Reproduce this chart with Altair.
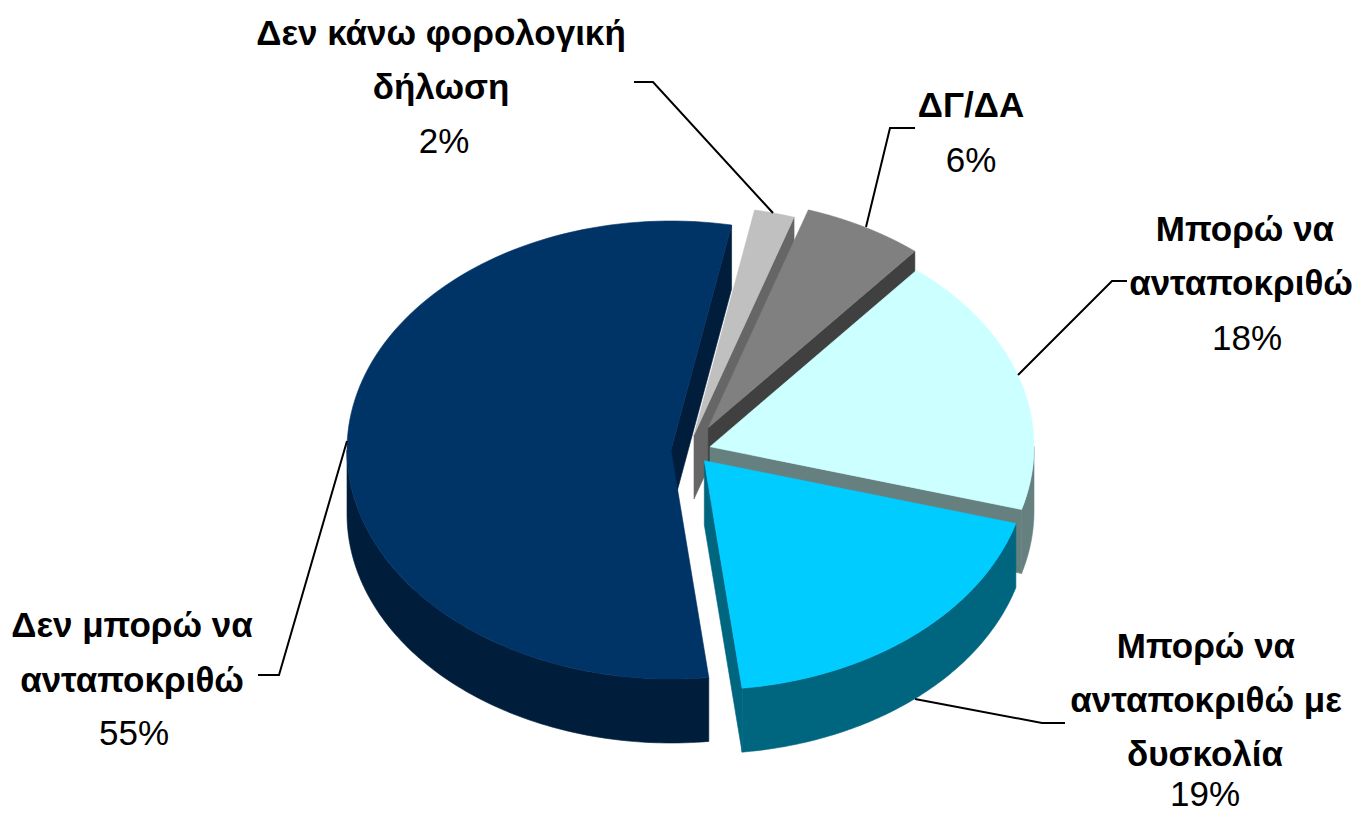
import numpy as np
import pandas as pd
import altair as alt

# ---- chart values (clockwise from the navy slice) ----
categories = ["Δεν μπορώ να ανταποκριθώ", "Δεν κάνω φορολογική δήλωση", "ΔΓ/ΔΑ",
              "Μπορώ να ανταποκριθώ", "Μπορώ να ανταποκριθώ με δυσκολία"]
values = [54.8, 2.0, 6.0, 18.4, 18.7]
top_colors = ["#003366", "#C0C0C0", "#808080", "#CCFFFF", "#00CCFF"]
side_colors = ["#001E3C", "#666666", "#404040", "#668080", "#006680"]

# ---- 3-D pie geometry: exploded slice pivots, in page pixels ----
pivots = [(671, 450), (694, 435), (708.3, 427.7), (710, 446.7), (704.3, 460.7)]
RX, RY, DEPTH = 324, 229, 64
START_DEG = 173.3
draw_order = [1, 2, 3, 0, 4]

# label lines: text, centre x, baseline y
bold_lines = [("Δεν κάνω φορολογική", 441, 45), ("δήλωση", 441, 99), ("ΔΓ/ΔΑ", 971, 117),
              ("Μπορώ να", 1245, 241), ("ανταποκριθώ", 1241, 295),
              ("Δεν μπορώ να", 132, 637), ("ανταποκριθώ", 132, 692),
              ("Μπορώ να", 1206, 658), ("ανταποκριθώ με", 1206, 712), ("δυσκολία", 1205, 766)]
pct_lines = [("2%", 444, 153), ("6%", 971, 172), ("18%", 1247, 350), ("55%", 134, 745), ("19%", 1205, 806)]
# leader lines, anchored on the rim
leaders = [[(347, 441), (279, 675), (258, 675)],
           [(773, 213), (653, 82), (634, 82)],
           [(866, 227), (890, 128), (915, 128)],
           [(1018, 375), (1112, 281), (1127, 281)],
           [(915, 699), (1042, 723), (1065, 723)]]

def rim(pivot, deg):
    t = np.radians(deg)
    return pivot[0] + RX * np.sin(t), pivot[1] - RY * np.cos(t)

spans, a = [], START_DEG
total = sum(values)
for v in values:
    sweep = v / total * 360
    spans.append((a, a + sweep))
    a += sweep
# bring each span so that its start lies in [0, 360)
spans = [(s - 360 * (s // 360), e - 360 * (s // 360)) for s, e in spans]

rows = []
def add_poly(name, color, pts):
    for k, (x, y) in enumerate(pts):
        rows.append({"poly": name, "color": color, "k": k, "x": x, "y": y})

poly_names, poly_colors = [], []
for i in draw_order:
    p, (a0, a1) = pivots[i], spans[i]
    # visible radial cut face
    for ang in (a0, a1):
        s = np.sin(np.radians(ang))
        if (ang == a1 and s > 0) or (ang == a0 and s < 0):
            e = rim(p, ang)
            name = f"{i}-face-{ang:.1f}"
            add_poly(name, side_colors[i], [p, e, (e[0], e[1] + DEPTH), (p[0], p[1] + DEPTH)])
            poly_names.append(name); poly_colors.append(side_colors[i])
    # outer wall (front half of the rim only)
    lo, hi = max(a0, 90), min(a1, 270)
    if hi > lo:
        arc = [rim(p, d) for d in np.linspace(lo, hi, 90)]
        name = f"{i}-wall"
        add_poly(name, side_colors[i], arc + [(x, y + DEPTH) for x, y in reversed(arc)])
        poly_names.append(name); poly_colors.append(side_colors[i])
    # top face
    arc = [rim(p, d) for d in np.linspace(a0, a1, 120)]
    name = f"{i}-top"
    add_poly(name, top_colors[i], [p] + arc)
    poly_names.append(name); poly_colors.append(top_colors[i])

polys = pd.DataFrame(rows)
X = alt.Scale(domain=[8, 1354], range=[0, 1346])
Y = alt.Scale(domain=[8, 813], range=[0, 805])
xq = lambda f="x": alt.X(f"{f}:Q", scale=X, axis=None)
yq = lambda f="y": alt.Y(f"{f}:Q", scale=Y, axis=None)

layers = []
for name, color in zip(poly_names, poly_colors):
    layers.append(alt.Chart(polys[polys.poly == name]).mark_line(
        fill=color, stroke=color, strokeWidth=0.6, interpolate="linear-closed"
    ).encode(x=xq(), y=yq(), order="k:Q"))

lead = pd.DataFrame([{"id": i, "k": k, "x": x, "y": y}
                     for i, l in enumerate(leaders) for k, (x, y) in enumerate(l)])
layers.append(alt.Chart(lead).mark_line(color="#000000", strokeWidth=2).encode(
    x=xq(), y=yq(), detail="id:N", order="k:Q"))

FONT = "Liberation Sans"
bdf = pd.DataFrame(bold_lines, columns=["t", "x", "y"])
pdf = pd.DataFrame(pct_lines, columns=["t", "x", "y"])
layers.append(alt.Chart(bdf).mark_text(font=FONT, fontSize=35, fontWeight="bold", baseline="alphabetic",
                                       align="center", color="#000000").encode(x=xq(), y=yq(), text="t:N"))
layers.append(alt.Chart(pdf).mark_text(font=FONT, fontSize=35, baseline="alphabetic",
                                       align="center", color="#000000").encode(x=xq(), y=yq(), text="t:N"))

chart = alt.layer(*layers).properties(
    width=1346, height=805, padding=0, autosize=alt.AutoSizeParams(type="none"),
    background="#FFFFFF"
).configure_view(stroke=None)
chart.save("out.html", embed_options={"renderer": "svg", "actions": False})
